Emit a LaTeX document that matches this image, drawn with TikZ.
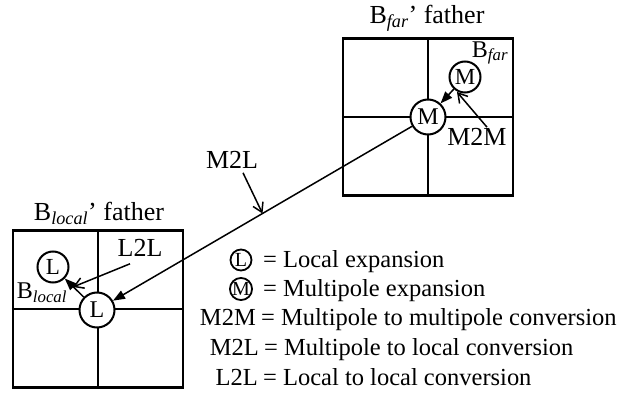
\documentclass[tikz,border=0pt]{standalone}
\usepackage{fontspec}
\setmainfont{Liberation Serif}
\usetikzlibrary{arrows.meta,calc}
\begin{document}
\begin{tikzpicture}[x=1pt,y=-1pt,
  box/.style={draw,line width=2.5pt,minimum width=170pt,minimum height=157pt,inner sep=0pt},
  gridline/.style={line width=2.5pt},
  bigc/.style={circle,draw,line width=2pt,fill=white,minimum size=35pt,inner sep=0pt,font=\fontsize{24}{24}\selectfont},
  smallc/.style={circle,draw,line width=2pt,fill=white,minimum size=31pt,inner sep=0pt,font=\fontsize{23}{23}\selectfont},
  legc/.style={circle,draw,line width=1.8pt,minimum size=21pt,inner sep=0pt,font=\fontsize{20}{20}\selectfont},
  lbl/.style={font=\fontsize{26}{28}\selectfont,inner sep=0pt},
  sub/.style={font=\fontsize{24}{26}\selectfont,inner sep=0pt},
  leg/.style={font=\fontsize{24.5}{26}\selectfont,inner sep=0pt},
  conn/.style={line width=1.5pt},
  filledarrow/.style={conn,-{Triangle[length=12pt,width=9pt]}},
  openarrow/.style={conn,-{Straight Barb[length=9pt,width=11pt]}},
]
\useasboundingbox (0,0) rectangle (622,401);
% boxes
\node[box] (lbox) at (98,309) {};
\draw[gridline] (lbox.north) -- (lbox.south);
\draw[gridline] (lbox.west) -- (lbox.east);
\node[box] (rbox) at (428,117) {};
\draw[gridline] (rbox.north) -- (rbox.south);
\draw[gridline] (rbox.west) -- (rbox.east);
% titles
\node[lbl] (ltitle) at (99,213) {B\textsubscript{\itshape local}’ father};
\node[lbl] (rtitle) at (427,18) {B\textsubscript{\itshape far}’ father};
% circles
\node[bigc] (bigL) at (97,310) {L};
\node[smallc] (smallL) at (53,267) {L};
\node[bigc] (bigM) at (428,117) {M};
\node[smallc] (smallM) at (465,77) {M};
% labels
\node[sub] (blocal) at (42,293) {B\textsubscript{\itshape local}};
\node[sub] (bfar) at (490,53) {B\textsubscript{\itshape far}};
\node[lbl] (l2l) at (140,248) {L2L};
\node[lbl] (m2m) at (477,137) {M2M};
\node[lbl] (m2l) at (232,160) {M2L};
% connectors
\draw[filledarrow] (bigM) -- (bigL);
\coordinate (m2lpt) at ($(bigL)!0.5!(bigM)$);
\coordinate (m2lstart) at ($(m2l.south)+(11,4)$);
\draw[openarrow] (m2lstart) -- (m2lpt);
\draw[filledarrow] (bigL) -- (smallL);
\coordinate (l2lend) at (73,287);
\coordinate (l2lstart) at ($(l2l.south)+(-10,7)$);
\draw[openarrow] (l2lstart) -- (l2lend);
\draw[filledarrow] (smallM) -- (bigM);
\coordinate (m2mend) at (457,92);
\coordinate (m2mstart) at ($(m2m.north)+(10,-1)$);
\draw[openarrow] (m2mstart) -- (m2mend);
% legend
\node[legc] (legL) at (241,260) {L};
\node[leg,anchor=base west] (legLt) at (263,268) {= Local expansion};
\node[legc] (legM) at (241,289) {M};
\node[leg,anchor=base west] (legMt) at (263,297) {= Multipole expansion};
\node[leg,anchor=base west] (v1) at (261,326) {= Multipole to multipole conversion};
\node[leg,anchor=base east] (k1) at (256,326) {M2M};
\node[leg,anchor=base west] (v2) at (264,355) {= Multipole to local conversion};
\node[leg,anchor=base east] (k2) at (259,355) {M2L};
\node[leg,anchor=base west] (v3) at (263,385) {= Local to local conversion};
\node[leg,anchor=base east] (k3) at (258,385) {L2L};
\end{tikzpicture}
\end{document}
